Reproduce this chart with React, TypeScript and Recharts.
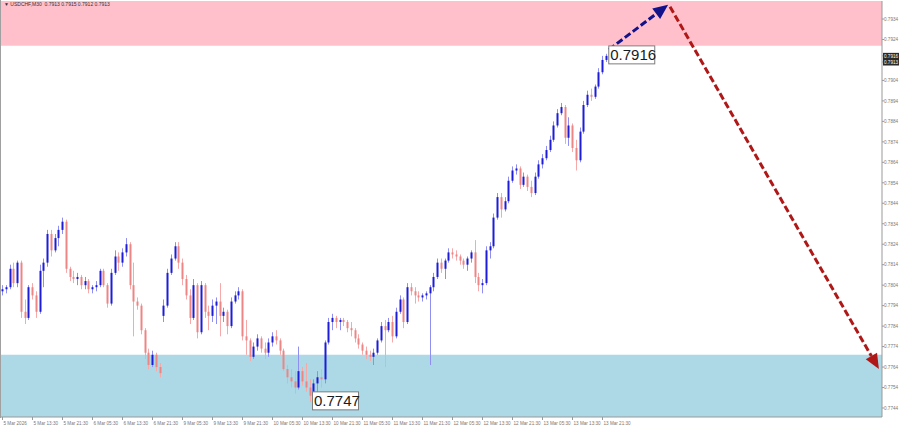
import React from "react";
import {
  ComposedChart,
  Bar,
  XAxis,
  YAxis,
  ReferenceArea,
  ReferenceLine,
  ReferenceDot,
} from "recharts";

type Ohlc = [number, number, number, number]; // open, high, low, close

// USDCHF hourly candles, one array per trading day
const mar05: Ohlc[] = [
  [0.7801, 0.7804, 0.7799, 0.7802], [0.7802, 0.7804, 0.78, 0.7803], [0.7803, 0.7814, 0.7802, 0.7812],
  [0.7812, 0.7815, 0.7803, 0.7805], [0.7805, 0.7816, 0.7803, 0.7815], [0.7815, 0.7816, 0.7788, 0.7791],
  [0.7791, 0.7797, 0.7785, 0.7788], [0.7788, 0.7804, 0.7787, 0.7803], [0.7803, 0.7805, 0.7797, 0.7799],
  [0.7799, 0.7801, 0.7788, 0.7791], [0.7791, 0.7814, 0.779, 0.7811], [0.7811, 0.7817, 0.7803, 0.7815],
  [0.7815, 0.7831, 0.7813, 0.7829], [0.7829, 0.7831, 0.7818, 0.7821], [0.7821, 0.7829, 0.782, 0.7827],
  [0.7827, 0.7833, 0.7823, 0.7831], [0.7831, 0.7837, 0.7829, 0.7835], [0.7835, 0.7836, 0.781, 0.7812],
  [0.7812, 0.7813, 0.7806, 0.7808],
];
const mar06: Ohlc[] = [
  [0.7808, 0.7811, 0.7805, 0.7807], [0.7807, 0.781, 0.7804, 0.7808], [0.7808, 0.7809, 0.7802, 0.7804],
  [0.7804, 0.7808, 0.7802, 0.7806], [0.7806, 0.7807, 0.78, 0.7802], [0.7802, 0.7804, 0.78, 0.7803],
  [0.7803, 0.7806, 0.7801, 0.7804], [0.7804, 0.7812, 0.7803, 0.7811], [0.7811, 0.7812, 0.7803, 0.7804],
  [0.7804, 0.7805, 0.7793, 0.7795], [0.7795, 0.7812, 0.7794, 0.781], [0.781, 0.7821, 0.7809, 0.7818],
  [0.7818, 0.782, 0.7811, 0.7815], [0.7815, 0.7822, 0.7813, 0.782], [0.782, 0.7827, 0.7818, 0.7824],
  [0.7824, 0.7825, 0.7802, 0.7804], [0.7804, 0.7815, 0.7779, 0.7796], [0.7796, 0.7798, 0.7792, 0.7794],
  [0.7794, 0.7795, 0.778, 0.7782], [0.7782, 0.7783, 0.7768, 0.7771], [0.7771, 0.7773, 0.7763, 0.7765],
  [0.7765, 0.7772, 0.7764, 0.777], [0.777, 0.7771, 0.7762, 0.7764], [0.7764, 0.7766, 0.7759, 0.7761],
];
const mar09: Ohlc[] = [
  [0.7789, 0.7797, 0.7786, 0.7794], [0.7794, 0.7812, 0.7793, 0.781], [0.781, 0.7819, 0.7809, 0.7817],
  [0.7817, 0.7825, 0.7816, 0.7823], [0.7823, 0.7825, 0.7812, 0.7815], [0.7815, 0.7817, 0.7804, 0.7807],
  [0.7807, 0.7809, 0.7797, 0.7799], [0.7799, 0.7802, 0.7785, 0.7788], [0.7788, 0.7807, 0.7787, 0.7804],
  [0.7804, 0.7805, 0.7778, 0.7781], [0.7781, 0.7806, 0.778, 0.7804], [0.7804, 0.7805, 0.7788, 0.7791],
  [0.7791, 0.7794, 0.7782, 0.7789], [0.7789, 0.7797, 0.7786, 0.7794], [0.7794, 0.7798, 0.7785, 0.7796],
  [0.7796, 0.7805, 0.7779, 0.7789], [0.7789, 0.7793, 0.7786, 0.7791], [0.7791, 0.7792, 0.778, 0.7784],
  [0.7784, 0.7798, 0.7783, 0.7796], [0.7796, 0.7801, 0.7795, 0.7799], [0.7799, 0.7803, 0.7797, 0.7801],
  [0.7801, 0.7802, 0.7777, 0.7779], [0.7779, 0.7787, 0.777, 0.7777], [0.7777, 0.7778, 0.7767, 0.7769],
];
const mar10: Ohlc[] = [
  [0.7769, 0.7776, 0.7768, 0.7774], [0.7774, 0.778, 0.7772, 0.7778], [0.7778, 0.7779, 0.7771, 0.7773],
  [0.7773, 0.7776, 0.7768, 0.7771], [0.7771, 0.7778, 0.7769, 0.7776], [0.7776, 0.7781, 0.7774, 0.7779],
  [0.7779, 0.7782, 0.7775, 0.7777], [0.7777, 0.7778, 0.777, 0.7772], [0.7772, 0.7773, 0.7762, 0.7763],
  [0.7763, 0.7765, 0.7756, 0.7759], [0.7759, 0.7763, 0.7754, 0.7757], [0.7757, 0.7762, 0.7751, 0.7754],
  [0.7754, 0.7774, 0.7753, 0.7762], [0.7762, 0.7764, 0.7755, 0.7757], [0.7757, 0.7766, 0.7752, 0.7754],
  [0.7754, 0.7758, 0.7747, 0.775], [0.775, 0.7758, 0.7749, 0.7756], [0.7756, 0.7762, 0.7751, 0.7759],
  [0.7759, 0.7763, 0.7754, 0.7758], [0.7758, 0.7777, 0.7756, 0.7776], [0.7776, 0.7788, 0.7775, 0.7786],
  [0.7786, 0.779, 0.7782, 0.7788], [0.7788, 0.7789, 0.7783, 0.7786], [0.7786, 0.7788, 0.7782, 0.7787],
];
const mar11: Ohlc[] = [
  [0.7787, 0.7788, 0.7784, 0.7786], [0.7786, 0.7787, 0.7781, 0.7783], [0.7783, 0.7786, 0.7779, 0.7782],
  [0.7782, 0.7783, 0.7776, 0.7778], [0.7778, 0.778, 0.7773, 0.7775], [0.7775, 0.7776, 0.777, 0.7772],
  [0.7772, 0.7774, 0.7768, 0.777], [0.777, 0.7772, 0.7767, 0.7769], [0.7769, 0.7773, 0.7765, 0.7771],
  [0.7771, 0.7778, 0.777, 0.7777], [0.7777, 0.7786, 0.7776, 0.7784], [0.7784, 0.7787, 0.7764, 0.7782],
  [0.7782, 0.7788, 0.7781, 0.7786], [0.7786, 0.7789, 0.7776, 0.7779], [0.7779, 0.7793, 0.7778, 0.7791],
  [0.7791, 0.7799, 0.779, 0.7797], [0.7797, 0.7798, 0.7783, 0.7786], [0.7786, 0.7805, 0.7785, 0.7803],
  [0.7803, 0.7805, 0.7799, 0.7801], [0.7801, 0.7803, 0.7795, 0.7799], [0.7799, 0.7801, 0.7796, 0.7798],
  [0.7798, 0.78, 0.7796, 0.7799], [0.7799, 0.7801, 0.7797, 0.78], [0.78, 0.7804, 0.7765, 0.7803],
];
const mar12: Ohlc[] = [
  [0.7803, 0.781, 0.7801, 0.7808], [0.7808, 0.7817, 0.7807, 0.7815], [0.7815, 0.7817, 0.781, 0.7812],
  [0.7812, 0.7817, 0.7807, 0.7816], [0.7816, 0.7822, 0.7815, 0.782], [0.782, 0.7822, 0.7817, 0.7819],
  [0.7819, 0.7821, 0.7816, 0.7818], [0.7818, 0.7819, 0.7814, 0.7816], [0.7816, 0.7817, 0.7812, 0.7814],
  [0.7814, 0.7818, 0.7811, 0.7817], [0.7817, 0.7821, 0.7815, 0.782], [0.782, 0.7826, 0.7805, 0.7808],
  [0.7808, 0.781, 0.7801, 0.7804], [0.7804, 0.7807, 0.78, 0.7805], [0.7805, 0.7823, 0.7804, 0.7821],
  [0.7821, 0.7825, 0.7817, 0.7823], [0.7823, 0.7839, 0.7822, 0.7837], [0.7837, 0.7849, 0.7836, 0.7847],
  [0.7847, 0.7849, 0.7837, 0.7841], [0.7841, 0.7847, 0.784, 0.7845], [0.7845, 0.7857, 0.7844, 0.7855],
  [0.7855, 0.7862, 0.7854, 0.786], [0.786, 0.7863, 0.7858, 0.7861], [0.7861, 0.7862, 0.7851, 0.7853],
];
const mar13: Ohlc[] = [
  [0.7853, 0.7859, 0.7852, 0.7857], [0.7857, 0.7858, 0.785, 0.7852], [0.7852, 0.7855, 0.7847, 0.7849],
  [0.7849, 0.7859, 0.7848, 0.7857], [0.7857, 0.7865, 0.7856, 0.7863], [0.7863, 0.7868, 0.7861, 0.7866],
  [0.7866, 0.7872, 0.7865, 0.787], [0.787, 0.7877, 0.7869, 0.7875], [0.7875, 0.7884, 0.7874, 0.7882],
  [0.7882, 0.789, 0.7881, 0.7888], [0.7888, 0.7893, 0.7887, 0.7891], [0.7891, 0.7892, 0.7873, 0.7876],
  [0.7876, 0.7886, 0.7872, 0.7882], [0.7882, 0.7883, 0.7869, 0.7871], [0.7871, 0.7875, 0.786, 0.7865],
  [0.7865, 0.7881, 0.7864, 0.7879], [0.7879, 0.7894, 0.7878, 0.7892], [0.7892, 0.7899, 0.7891, 0.7897],
  [0.7897, 0.79, 0.7894, 0.7896], [0.7896, 0.7902, 0.7895, 0.7901], [0.7901, 0.791, 0.79, 0.7908],
  [0.7908, 0.7916, 0.7907, 0.7914], [0.7914, 0.7917, 0.7913, 0.7916],
];
const tradingDays = [mar05, mar06, mar09, mar10, mar11, mar12, mar13];

const timeLabels = [
  "5 Mar 2026", "5 Mar 13:30", "5 Mar 21:30", "6 Mar 05:30", "6 Mar 13:30", "6 Mar 21:30",
  "9 Mar 05:30", "9 Mar 13:30", "9 Mar 21:30", "10 Mar 05:30", "10 Mar 13:30", "10 Mar 21:30",
  "11 Mar 05:30", "11 Mar 13:30", "11 Mar 21:30", "12 Mar 05:30", "12 Mar 13:30", "12 Mar 21:30",
  "13 Mar 05:30", "13 Mar 13:30", "13 Mar 21:30",
];
const priceTicks = [
  0.7744, 0.7754, 0.7764, 0.7774, 0.7784, 0.7794, 0.7804, 0.7814, 0.7824, 0.7834,
  0.7844, 0.7854, 0.7864, 0.7874, 0.7884, 0.7894, 0.7904, 0.7916, 0.7913, 0.7924, 0.7934,
];
const markedPrices = [0.7916, 0.7913];

const priceMin = 0.77396;
const priceMax = 0.79428;
const sellZone = [0.7921, priceMax];
const buyZone = [priceMin, 0.777];
const swingHigh = { i: 161, p: 0.7916 };
const swingLow = { i: 82, p: 0.7747 };
const forecastUp = [{ i: 161.7, p: 0.7919 }, { i: 177.5, p: 0.7941 }];
const forecastDown = [{ i: 178, p: 0.794 }, { i: 233.7, p: 0.7763 }];

const rows = tradingDays.flat().map(([o, h, l, c], i) => ({ i, o, h, l, c, range: [l, h] }));
const tickIdx = timeLabels.map((_, k) => k * 8);

const FONT = "'Liberation Sans', Arial, sans-serif";

function CandleShape(props: any) {
  const { x, y, width, height, payload } = props;
  if (!payload) return null;
  const { o, h, l, c } = payload;
  const top = Math.min(y, y + height);
  const bottom = Math.max(y, y + height);
  const toY = (v: number) => top + ((h - v) / (h - l)) * (bottom - top);
  const cx = Math.round(x + width / 2);
  const up = c >= o;
  const yo = toY(o);
  const yc = toY(c);
  return (
    <g>
      <line x1={cx + 0.5} x2={cx + 0.5} y1={top} y2={bottom} stroke={up ? "#8f8ff2" : "#f5a9a9"} strokeWidth={1} />
      <rect x={cx - 0.5} y={Math.min(yo, yc)} width={2} height={Math.max(1, Math.abs(yc - yo))} fill={up ? "#1d1dd9" : "#ee8585"} />
    </g>
  );
}

function PriceTick(props: any) {
  const { x, y, payload } = props;
  const v = payload.value;
  const label = v.toFixed(4);
  if (markedPrices.includes(v)) {
    return (
      <g>
        <rect x={x - 1} y={y - 3} width={16} height={6.5} fill="#2a2a2a" />
        <text x={x} y={y + 1.8} fontSize={4.6} fill="#fff" fontFamily={FONT}>{label}</text>
      </g>
    );
  }
  return <text x={x} y={y + 1.8} fontSize={4.6} fill="#777" fontFamily={FONT}>{label}</text>;
}

function TimeTick(props: any) {
  const { x, y, payload, index } = props;
  return (
    <text x={x + 1} y={y + 5} fontSize={4.6} fill="#777" fontFamily={FONT}>
      {timeLabels[index] ?? timeLabels[payload.value / 8]}
    </text>
  );
}

const priceTag = (text: string) => (props: any) => {
  const { cx, cy } = props;
  return (
    <g>
      <rect x={cx + 2.5} y={cy - 10} width={46} height={18} fill="#fff" stroke="#7d7d7d" strokeWidth={1} />
      <text x={cx + 4} y={cy + 4.5} fontSize={15} fill="#1b1b1b" fontFamily={FONT}>{text}</text>
    </g>
  );
};

const dashedArrow = (color: string) => (props: any) => {
  const { x1, y1, x2, y2 } = props;
  const a = Math.atan2(y2 - y1, x2 - x1);
  const len = 15;
  const half = 6.5;
  const bx = x2 - len * Math.cos(a);
  const by = y2 - len * Math.sin(a);
  const pts = [
    `${x2},${y2}`,
    `${bx + half * Math.sin(a)},${by - half * Math.cos(a)}`,
    `${bx - half * Math.sin(a)},${by + half * Math.cos(a)}`,
  ].join(" ");
  return (
    <g>
      <line x1={x1} y1={y1} x2={bx} y2={by} stroke={color} strokeWidth={3} strokeDasharray="7 3" />
      <polygon points={pts} fill={color} />
    </g>
  );
};

export default function App() {
  return (
    <div style={{ position: "absolute", left: 0, top: 0, width: 900, height: 430, background: "#fff", overflow: "hidden" }}>
      <ComposedChart width={900} height={430} data={rows} margin={{ top: 1, right: 0, bottom: 1, left: 1 }}>
        <ReferenceArea y1={sellZone[0]} y2={sellZone[1]} fill="#ffc0cb" fillOpacity={1} ifOverflow="visible" />
        <ReferenceArea y1={buyZone[0]} y2={buyZone[1]} fill="#add8e6" fillOpacity={1} ifOverflow="visible" />
        <XAxis
          dataKey="i"
          type="number"
          domain={[-0.4, 234.53]}
          allowDataOverflow
          ticks={tickIdx}
          tick={<TimeTick />}
          tickSize={3}
          tickMargin={0}
          height={12}
          interval={0}
          axisLine={{ stroke: "#999" }}
          tickLine={{ stroke: "#999" }}
        />
        <YAxis
          orientation="right"
          type="number"
          domain={[priceMin, priceMax]}
          allowDataOverflow
          ticks={priceTicks}
          tick={<PriceTick />}
          tickSize={2}
          tickMargin={0}
          width={18}
          interval={0}
          axisLine={{ stroke: "#999" }}
          tickLine={{ stroke: "#999" }}
        />
        <Bar dataKey="range" shape={(p: any) => <CandleShape {...p} />} barSize={3} isAnimationActive={false} />
        <ReferenceLine
          segment={[{ x: forecastUp[0].i, y: forecastUp[0].p }, { x: forecastUp[1].i, y: forecastUp[1].p }]}
          shape={dashedArrow("#12128a")}
          ifOverflow="visible"
        />
        <ReferenceLine
          segment={[{ x: forecastDown[0].i, y: forecastDown[0].p }, { x: forecastDown[1].i, y: forecastDown[1].p }]}
          shape={dashedArrow("#b01818")}
          ifOverflow="visible"
        />
        <ReferenceDot x={swingHigh.i} y={swingHigh.p} shape={priceTag(swingHigh.p.toFixed(4))} ifOverflow="visible" />
        <ReferenceDot x={swingLow.i} y={swingLow.p} shape={priceTag(swingLow.p.toFixed(4))} ifOverflow="visible" />
      </ComposedChart>
      <div style={{ position: "absolute", left: 0, top: 0, width: 1, height: 418, background: "#a0a0a0" }} />
      <div style={{ position: "absolute", left: 4, top: 1, fontSize: 5, lineHeight: "6px", color: "#333", whiteSpace: "pre", fontFamily: FONT }}>
        ▼ USDCHF,M30  0.7913 0.7915 0.7912 0.7913
      </div>
    </div>
  );
}
